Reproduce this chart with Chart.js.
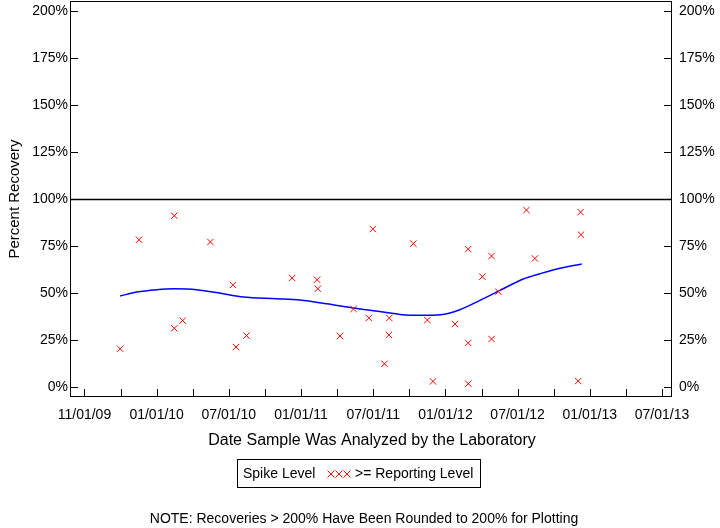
<!DOCTYPE html>
<html>
<head>
<meta charset="utf-8">
<script src="https://cdn.jsdelivr.net/npm/chart.js@4.4.1/dist/chart.umd.min.js"></script>
<style>
  html, body { margin: 0; padding: 0; background: #fff; }
</style>
</head>
<body>
<canvas id="chart" width="720" height="528"></canvas>
<script>
// x axis labels, one every 6 months (axis unit = months since 01/01/10)
const tickLabels = ['11/01/09', '01/01/10', '07/01/10', '01/01/11', '07/01/11', '01/01/12', '07/01/12', '01/01/13', '07/01/13'];
const tickMonths = [-6, -3, 0, 3, 6, 9, 12, 15, 18, 21, 24, 27, 30, 33, 36, 39, 42];
const yTicks = [0, 25, 50, 75, 100, 125, 150, 175, 200];

// spike recoveries, >= reporting level
const sampleDates = [
  '2009-09-30', '2009-11-17', '2010-02-15', '2010-02-15', '2010-03-06', '2010-05-15',
  '2010-07-11', '2010-07-19', '2010-08-15', '2010-12-09', '2011-02-11', '2011-02-13',
  '2011-04-08', '2011-05-12', '2011-06-20', '2011-06-30', '2011-07-29', '2011-08-11',
  '2011-08-10', '2011-10-11', '2011-11-16', '2011-11-30', '2012-01-25', '2012-02-28',
  '2012-02-28', '2012-02-28', '2012-04-03', '2012-04-26', '2012-04-26', '2012-05-13',
  '2012-07-23', '2012-08-14', '2012-12-08', '2012-12-09', '2012-12-02'
];
const recovery = [
  20.2, 78.3, 91.1, 31.1, 35.2, 77.1,
  54.2, 21.1, 27.2, 57.9, 57.0, 52.2,
  27.0, 41.4, 36.6, 84.0, 12.2, 36.6,
  27.6, 76.2, 35.5, 2.8, 33.4, 73.3,
  23.3, 1.6, 58.6, 69.6, 25.4, 50.6,
  94.1, 68.3, 93.0, 81.0, 3.0
];

// smoothed trend line
const trendDates = [
  '2009-09-30', '2009-11-11', '2010-01-01', '2010-02-15', '2010-04-11', '2010-06-17',
  '2010-08-07', '2010-10-30', '2010-12-28', '2011-03-05', '2011-05-11', '2011-07-01',
  '2011-08-13', '2011-09-08', '2011-11-06', '2011-12-18', '2012-02-07', '2012-03-27',
  '2012-05-17', '2012-07-15', '2012-08-27', '2012-10-09', '2012-12-11'
];
const trendValues = [
  48.3, 50.4, 51.7, 52.2, 51.7, 49.5,
  47.8, 46.9, 46.2, 44.2, 41.9, 40.5,
  39.3, 38.5, 38.0, 38.3, 41.0, 46.0,
  51.3, 57.4, 60.2, 62.7, 65.4
];

function toMonths(d) {
  const [y, m, day] = d.split('-').map(Number);
  return (y - 2010) * 12 + (m - 1) + (day - 1) / 30;
}

const FONT = '"Liberation Sans", Arial, sans-serif';

// keep edge labels from pushing the plot box inward
function noEdgePad(s) {
  s.paddingTop = 0;
  s.paddingBottom = 0;
  s.paddingLeft = 0;
  s.paddingRight = 0;
}

const decorations = {
  id: 'decorations',
  beforeDatasetsDraw(chart) {
    const { ctx, chartArea: a, scales } = chart;
    ctx.save();
    ctx.strokeStyle = '#000';
    ctx.lineWidth = 1;
    ctx.strokeRect(a.left + 0.5, a.top + 0.5, a.right - a.left - 1, a.bottom - a.top - 1);

    // 100% reference line
    const y100 = Math.round(scales.y.getPixelForValue(100)) + 0.5;
    ctx.lineWidth = 1.5;
    ctx.beginPath();
    ctx.moveTo(a.left, y100);
    ctx.lineTo(a.right, y100);
    ctx.stroke();

    // inward tick marks
    ctx.lineWidth = 1;
    ctx.beginPath();
    tickMonths.forEach(v => {
      const x = Math.round(scales.x.getPixelForValue(v)) + 0.5;
      ctx.moveTo(x, a.bottom);
      ctx.lineTo(x, a.bottom - 8);
    });
    yTicks.forEach(v => {
      const y = Math.round(scales.y.getPixelForValue(v)) + 0.5;
      ctx.moveTo(a.left, y);
      ctx.lineTo(a.left + 8, y);
      ctx.moveTo(a.right, y);
      ctx.lineTo(a.right - 8, y);
    });
    ctx.stroke();
    ctx.restore();
  },
  afterDraw(chart) {
    const { ctx } = chart;
    ctx.save();
    ctx.fillStyle = '#000';
    ctx.textBaseline = 'middle';

    // y axis title
    ctx.save();
    ctx.translate(15, 199);
    ctx.rotate(-Math.PI / 2);
    ctx.textAlign = 'center';
    ctx.font = '15px ' + FONT;
    ctx.fillText('Percent Recovery', 0, 0);
    ctx.restore();

    // x axis title
    ctx.textAlign = 'center';
    ctx.font = '16px ' + FONT;
    ctx.fillText('Date Sample Was Analyzed by the Laboratory', 372, 441);

    // legend
    ctx.lineWidth = 1;
    ctx.strokeStyle = '#000';
    ctx.strokeRect(237.5, 459.5, 243, 28);
    ctx.font = '14px ' + FONT;
    ctx.textAlign = 'left';
    ctx.fillText('Spike Level', 243, 474);
    ctx.strokeStyle = '#ff0000';
    ctx.beginPath();
    [331, 339, 347].forEach(x => {
      ctx.moveTo(x - 3.5, 470.5); ctx.lineTo(x + 3.5, 477.5);
      ctx.moveTo(x + 3.5, 470.5); ctx.lineTo(x - 3.5, 477.5);
    });
    ctx.stroke();
    ctx.fillText('>= Reporting Level', 355, 474);

    // note
    ctx.textAlign = 'center';
    ctx.font = '14px ' + FONT;
    ctx.fillText('NOTE: Recoveries > 200% Have Been Rounded to 200% for Plotting', 364, 519);
    ctx.restore();
  }
};

new Chart(document.getElementById('chart'), {
  type: 'scatter',
  data: {
    datasets: [
      {
        label: '>= Reporting Level',
        data: sampleDates.map((d, i) => ({ x: toMonths(d), y: recovery[i] })),
        pointStyle: 'crossRot',
        pointRadius: 4.5,
        pointBorderWidth: 1,
        borderColor: '#ff0000',
        backgroundColor: '#ff0000'
      },
      {
        label: 'Trend',
        type: 'line',
        data: trendDates.map((d, i) => ({ x: toMonths(d), y: trendValues[i] })),
        borderColor: '#0000ff',
        borderWidth: 1.5,
        pointRadius: 0,
        tension: 0.4,
        cubicInterpolationMode: 'monotone',
        fill: false
      }
    ]
  },
  options: {
    responsive: false,
    animation: false,
    devicePixelRatio: 1,
    layout: { autoPadding: false, padding: { top: 1, left: 0, right: 0, bottom: 0 } },
    plugins: {
      legend: { display: false },
      tooltip: { enabled: false }
    },
    scales: {
      x: {
        type: 'linear',
        min: -7.2,
        max: 42.83,
        grid: { display: false, drawTicks: false },
        border: { display: false },
        afterBuildTicks: s => { s.ticks = tickMonths.map(v => ({ value: v })); },
        afterFit: s => { s.height = 131; noEdgePad(s); },
        ticks: {
          autoSkip: false,
          maxRotation: 0,
          padding: 10,
          color: '#000',
          font: { family: FONT, size: 14 },
          callback: v => (v % 6 === 0 ? tickLabels[(v + 6) / 6] : '')
        }
      },
      y: {
        position: 'left',
        min: -5.5,
        max: 205.5,
        grid: { display: false, drawTicks: false },
        border: { display: false },
        afterBuildTicks: s => { s.ticks = yTicks.map(v => ({ value: v })); },
        afterFit: s => { s.width = 70; noEdgePad(s); },
        ticks: {
          padding: 2,
          color: '#000',
          font: { family: FONT, size: 14 },
          callback: v => v + '%'
        }
      },
      y2: {
        position: 'right',
        min: -5.5,
        max: 205.5,
        grid: { display: false, drawTicks: false },
        border: { display: false },
        afterBuildTicks: s => { s.ticks = yTicks.map(v => ({ value: v })); },
        afterFit: s => { s.width = 48; noEdgePad(s); },
        ticks: {
          padding: 7,
          color: '#000',
          font: { family: FONT, size: 14 },
          callback: v => v + '%'
        }
      }
    }
  },
  plugins: [decorations]
});
</script>
</body>
</html>
